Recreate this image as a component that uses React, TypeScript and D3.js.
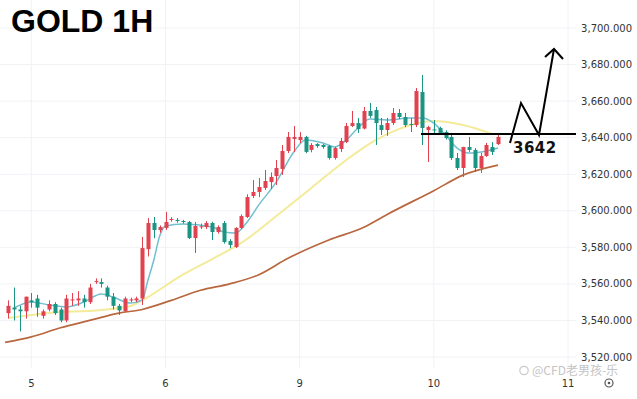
import React, { useEffect } from 'react';
import * as d3 from 'd3';

const W = 637;
const H = 399;

// hourly candles (red = up, teal = down)
const opens = [
  3544, 3547, 3546, 3545, 3551, 3552, 3542.5, 3546, 3549, 3546, 3540, 3551, 3551, 3552, 3550, 3561, 3561, 3558, 3553, 3548, 3545, 3551,
  3551, 3552, 3579, 3593.3, 3589.5, 3590.6, 3595, 3595, 3594.4, 3593.9, 3585.1, 3591.1, 3591.1, 3593.3, 3588.4, 3593.3, 3583.5, 3580.2, 3590.6, 3596.6,
  3608.1, 3610.3, 3612.5, 3615.7, 3619, 3622.9, 3632.7, 3639.3, 3638.7, 3640.4, 3633.3, 3636.5, 3636, 3635.4, 3628.9, 3633.8, 3637.6, 3646.4, 3648, 3645, 3654.6,
  3655.1, 3646.9, 3644.2, 3648, 3653.5, 3651.3, 3647.5, 3646.9, 3665, 3644.2, 3644.5, 3645.3, 3643.1, 3640.4, 3628.9, 3623.4, 3634.9, 3633.3, 3623.4, 3630, 3634.9, 3636.5,
];
const highs = [
  3551, 3558, 3548, 3553, 3555, 3554, 3546, 3551, 3550, 3547, 3554, 3555, 3556, 3554, 3560, 3563, 3563, 3559, 3555, 3549, 3553, 3552.5,
  3553, 3585.7, 3596, 3596.6, 3592, 3599.4, 3596.5, 3596, 3595, 3594.4, 3593.9, 3593, 3594.4, 3594, 3592, 3594.4, 3584.5, 3591, 3598, 3609,
  3616.8, 3617.9, 3622.3, 3621, 3627.8, 3636, 3643.1, 3646.4, 3643, 3641, 3637, 3637, 3636.5, 3636, 3635, 3639.8, 3648, 3654.6, 3650.8, 3656.8, 3659,
  3656.8, 3650.8, 3650.8, 3656.2, 3655.7, 3653.5, 3650.8, 3667.2, 3674.3, 3646.5, 3649.7, 3646, 3644, 3642.6, 3631.6, 3635, 3640.4, 3634.3, 3631.6, 3637.1, 3637.6, 3641.5,
];
const lows = [
  3541, 3540, 3534, 3541, 3547, 3542, 3541, 3545, 3543, 3539, 3539, 3548, 3548, 3547, 3549, 3560, 3558, 3551, 3546, 3543, 3545, 3550,
  3550, 3548.5, 3575, 3585, 3588, 3589.5, 3594, 3593.5, 3593, 3584.5, 3576.9, 3590, 3590, 3584, 3587.5, 3582, 3579.5, 3579.6, 3590, 3596,
  3607, 3607.5, 3611.4, 3611.9, 3614.1, 3619.6, 3631.6, 3632.2, 3637, 3631.5, 3632, 3634.5, 3634, 3628, 3628, 3632.2, 3637, 3645.8, 3642.6, 3644.5, 3650.8,
  3636, 3641.5, 3641, 3646.9, 3650.2, 3645.8, 3643.1, 3645.8, 3636, 3626.7, 3641.5, 3641.5, 3639, 3627.8, 3622.3, 3618.5, 3632.2, 3621.2, 3620.7, 3629.5, 3630.5, 3636,
];
const closes = [
  3548, 3546, 3545, 3553, 3550, 3547, 3545, 3549, 3544, 3540, 3552, 3551.5, 3552, 3550, 3558, 3561.5, 3560, 3553, 3548, 3545.5, 3552, 3551.5,
  3552, 3579.6, 3593.3, 3589.5, 3591.1, 3593.9, 3595.5, 3594.4, 3593.9, 3585.1, 3591.7, 3591.5, 3593.3, 3588.4, 3591.1, 3582.9, 3581.3, 3590.6, 3597.1, 3607.5,
  3610.3, 3613, 3616.3, 3618.5, 3623.4, 3632.7, 3640.4, 3640.4, 3640.4, 3632.2, 3636, 3635.4, 3634.9, 3628.9, 3634.3, 3638.2, 3646.4, 3648, 3644.7, 3654.6, 3651.9,
  3648, 3644.2, 3648, 3653.5, 3651.3, 3646.9, 3647, 3665.5, 3645.3, 3645.8, 3644, 3642.6, 3639.8, 3628.9, 3623.4, 3634.9, 3633.3, 3623.4, 3630, 3636, 3632.2, 3640.4,
];

// moving averages as [candle index, value]
const maFast: [number, number][] = [
  [1, 3546.8], [4, 3550.1], [7, 3548.5], [10, 3547.4], [13, 3550.1], [16, 3554.5], [18, 3552.8], [21, 3549.5], [23, 3551.2],
  [24, 3562.1], [25, 3573.1], [26, 3586.2], [27, 3591.7], [30, 3592.8], [35, 3591.1], [37, 3588.4], [39, 3587.8], [41, 3593.9],
  [43, 3603.2], [46, 3615.8], [49, 3632.2], [51, 3638.7], [54, 3637.1], [56, 3634.9], [58, 3638.7], [60, 3645.3], [62, 3650.2],
  [65, 3649.7], [69, 3650.8], [71, 3650.8], [73, 3648], [75, 3641.5], [77, 3634.3], [79, 3631.6], [82, 3632.7], [84, 3634.3],
];
const maMid: [number, number][] = [
  [0, 3541.3], [7, 3544.1], [16, 3545.7], [21, 3547.9], [24, 3552.8], [29, 3563.2], [35, 3573.6], [40, 3582.4], [46, 3597.1],
  [52, 3612.5], [58, 3627.8], [63, 3638.7], [67, 3644.7], [73, 3649.1], [78, 3646.9], [83, 3642],
];
const maSlow: [number, number][] = [
  [-0.5, 3528], [4, 3531], [9, 3536], [14, 3540], [19, 3544], [23, 3546], [28, 3551], [33, 3556.5], [38, 3560], [43, 3565],
  [48, 3574], [55, 3584], [61, 3591], [65, 3598], [73, 3611], [78, 3619.5], [84, 3625],
];

const priceTicks = [3520, 3540, 3560, 3580, 3600, 3620, 3640, 3660, 3680, 3700];
const dayTicks: [number, string][] = [[4, '5'], [27, '6'], [50, '9'], [73, '10'], [96, '11']];
const keyLevel = 3642;
const title = 'GOLD 1H';
const watermark = '@CFD老男孩-乐';

const UP = '#e2414f';
const DOWN = '#1a9583';

export default function App() {
  useEffect(() => {
    document.body.style.margin = '0';
  }, []);

  const x = d3.scaleLinear().domain([0, 84]).range([8, 498]);
  const y = d3.scaleLinear().domain([3520, 3700]).range([357, 28]);
  const fmt = d3.format(',.3f');

  const line = d3
    .line<[number, number]>()
    .x((d) => x(d[0]))
    .y((d) => y(d[1]))
    .curve(d3.curveMonotoneX);

  const levelY = y(keyLevel);
  const bw = 4;

  return (
    <svg width={W} height={H} style={{ display: 'block', background: '#fff' }}>
      {/* grid */}
      {priceTicks.map((p) => (
        <line key={p} x1={0} x2={576} y1={y(p)} y2={y(p)} stroke="#f0f2f6" />
      ))}
      {dayTicks.map(([i]) => (
        <line key={i} x1={x(i)} x2={x(i)} y1={0} y2={368} stroke="#f0f2f6" />
      ))}

      {/* moving averages */}
      <path d={line(maSlow) || ''} fill="none" stroke="#b8673e" strokeWidth={1.7} />
      <path d={line(maMid) || ''} fill="none" stroke="#f4eb9a" strokeWidth={2} />
      <path d={line(maFast) || ''} fill="none" stroke="#72bfd0" strokeWidth={1.5} />

      {/* candles */}
      {opens.map((o, i) => {
        const c = closes[i];
        const col = c >= o ? UP : DOWN;
        const top = y(Math.max(o, c));
        const h = Math.max(1, y(Math.min(o, c)) - top);
        const cx = Math.round(x(i)) + 0.5;
        return (
          <g key={i}>
            <line x1={cx} x2={cx} y1={y(highs[i])} y2={y(lows[i])} stroke={col} strokeWidth={1} />
            <rect x={cx - bw / 2} y={top} width={bw} height={h} fill={col} />
          </g>
        );
      })}

      {/* price axis */}
      {priceTicks.map((p) => (
        <text key={p} x={632} y={y(p) + 3.5} textAnchor="end" fontSize={10} fontFamily="DejaVu Sans" fill="#333">
          {fmt(p)}
        </text>
      ))}
      {dayTicks.map(([i, lbl]) => (
        <text key={lbl} x={x(i)} y={387} textAnchor="middle" fontSize={10} fontFamily="DejaVu Sans" fill="#333">
          {lbl}
        </text>
      ))}

      {/* annotation */}
      <line x1={421} x2={576} y1={levelY} y2={levelY} stroke="#000" strokeWidth={2} />
      <polyline
        points="510,143 521,103 539,135 554,49"
        fill="none"
        stroke="#000"
        strokeWidth={2}
        strokeLinejoin="miter"
      />
      <polyline points="545,57 554,49 563,59" fill="none" stroke="#000" strokeWidth={2} />
      <text x={513} y={153} fontSize={15} fontWeight={700} fontFamily="DejaVu Sans" fill="#111" letterSpacing={0.5}>
        {keyLevel}
      </text>

      <text x={11} y={32} fontSize={32} fontWeight={700} fontFamily="Liberation Sans" fill="#000">
        {title}
      </text>

      {/* watermark and settings icon */}
      <circle cx={524} cy={370.5} r={4.2} fill="none" stroke="#c9c9c9" strokeWidth={1.2} />
      <text x={532} y={375} fontSize={12} fontFamily="Noto Sans CJK SC" fill="#c4c4c4">
        {watermark}
      </text>
      <circle cx={609} cy={383} r={4} fill="none" stroke="#555" strokeWidth={1.2} />
      <circle cx={609} cy={383} r={1.3} fill="#555" />
    </svg>
  );
}
